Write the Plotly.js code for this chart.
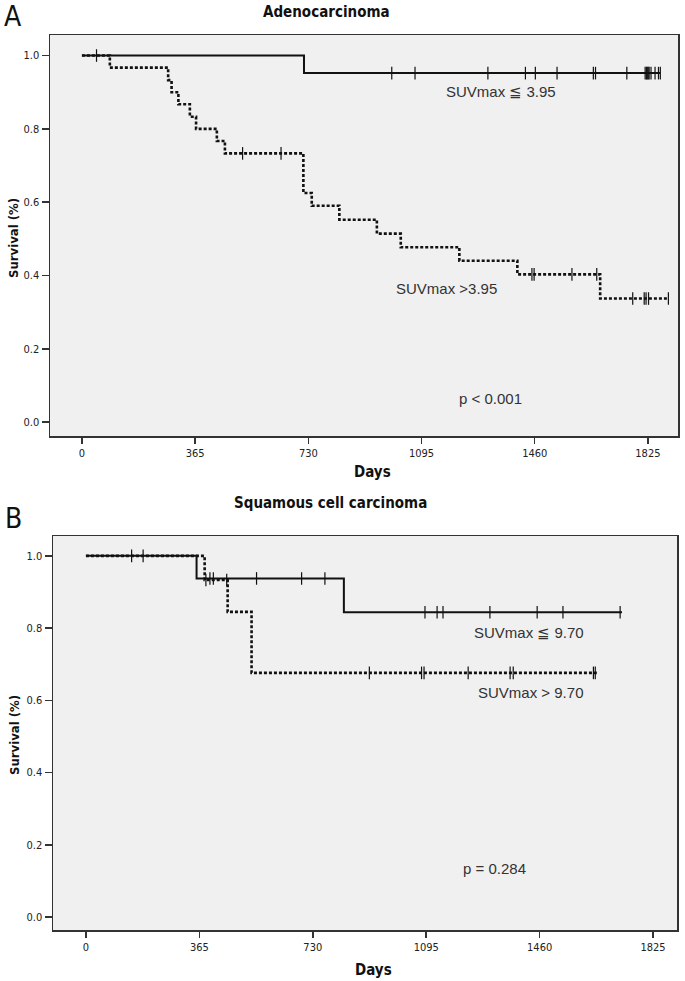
<!DOCTYPE html>
<html>
<head>
<meta charset="utf-8">
<script src="https://cdn.plot.ly/plotly-3.0.1.min.js"></script>
<style>html,body{margin:0;padding:0;background:#fff;}#chart{width:685px;height:981px;}</style>
</head>
<body>
<div id="chart"></div>
<script>
// ---------- DATA ----------
// Panel A: Adenocarcinoma
const daysA_low   = [0, 716, 1865];
const survA_low   = [1.0, 0.952, 0.952];
const censA_low   = [47, 999, 1074, 1309, 1430, 1462, 1532, 1649, 1656, 1757, 1816, 1820, 1823, 1826, 1829, 1835, 1848, 1859, 1865];

const daysA_high  = [0, 90, 278, 289, 311, 348, 368, 435, 461, 714, 741, 830, 951, 1028, 1217, 1404, 1671, 1891];
const survA_high  = [1.0, 0.967, 0.933, 0.9, 0.867, 0.833, 0.8, 0.767, 0.733, 0.625, 0.59, 0.552, 0.514, 0.477, 0.44, 0.403, 0.337, 0.337];
const censA_high  = [518, 642, 1451, 1458, 1580, 1660, 1776, 1813, 1819, 1827, 1891];

// Panel B: Squamous cell carcinoma
const daysB_low   = [0, 356, 830, 1725];
const survB_low   = [1.0, 0.9375, 0.844, 0.844];
const censB_low   = [147, 184, 399, 410, 549, 694, 769, 1091, 1130, 1149, 1300, 1452, 1535, 1719];

const daysB_high  = [0, 382, 456, 533, 1644];
const survB_high  = [1.0, 0.933, 0.845, 0.676, 0.676];
const censB_high  = [386, 453, 912, 1080, 1088, 1230, 1365, 1375, 1633, 1639];

const xTicks = [0, 365, 730, 1095, 1460, 1825];
const yTicks = [0.0, 0.2, 0.4, 0.6, 0.8, 1.0];
const yTickText = ['0.0', '0.2', '0.4', '0.6', '0.8', '1.0'];

const labelsA = ['SUVmax ≦ 3.95', 'SUVmax >3.95', 'p < 0.001'];
const labelsB = ['SUVmax ≦ 9.70', 'SUVmax > 9.70', 'p = 0.284'];
const titles  = ['Adenocarcinoma', 'Squamous cell carcinoma'];
const panelLetters = ['A', 'B'];
const xTitle = 'Days';
const yTitle = 'Survival (%)';

// ---------- HELPERS ----------
function stepAt(days, surv, t) {
  let v = surv[0];
  for (let i = 0; i < days.length; i++) { if (days[i] <= t) v = surv[i]; }
  return v;
}
const W = 685, H = 981;
const px = x => x / W;
const py = y => 1 - y / H;

const LABEL_FONT = "'Liberation Sans', Arial, sans-serif";
const TICK_FONT = "'Liberation Sans Narrow', 'DejaVu Sans Condensed', 'Liberation Sans', sans-serif";

function curve(days, surv, dashed, xa, ya) {
  return {
    x: days, y: surv, xaxis: xa, yaxis: ya, type: 'scatter', mode: 'lines',
    line: {shape: 'hv', color: '#111', width: dashed ? 2.6 : 2, dash: dashed ? '3px,2px' : 'solid'},
    hoverinfo: 'skip', showlegend: false
  };
}
function censors(days, surv, cens, xa, ya) {
  return {
    x: cens, y: cens.map(t => stepAt(days, surv, t)), xaxis: xa, yaxis: ya,
    type: 'scatter', mode: 'markers',
    marker: {symbol: 'line-ns', size: 9, line: {color: '#111', width: 1.2}},
    hoverinfo: 'skip', showlegend: false
  };
}

const data = [
  curve(daysA_low, survA_low, false, 'x', 'y'),
  curve(daysA_high, survA_high, true, 'x', 'y'),
  censors(daysA_low, survA_low, censA_low, 'x', 'y'),
  censors(daysA_high, survA_high, censA_high, 'x', 'y'),
  curve(daysB_low, survB_low, false, 'x2', 'y2'),
  curve(daysB_high, survB_high, true, 'x2', 'y2'),
  censors(daysB_low, survB_low, censB_low, 'x2', 'y2'),
  censors(daysB_high, survB_high, censB_high, 'x2', 'y2')
];

function xaxisDef(domain, range, anchor) {
  return {
    domain: domain, range: range, anchor: anchor,
    tickmode: 'array', tickvals: xTicks, ticktext: xTicks.map(String),
    ticks: 'outside', ticklen: 6, tickwidth: 1.5, tickcolor: '#333',
    showline: true, mirror: true, linecolor: '#333', linewidth: 1.5,
    showgrid: false, zeroline: false,
    tickfont: {family: TICK_FONT, size: 11, color: '#222'}
  };
}
function yaxisDef(domain, range, anchor) {
  return {
    domain: domain, range: range, anchor: anchor,
    tickmode: 'array', tickvals: yTicks, ticktext: yTickText,
    ticks: 'outside', ticklen: 7, tickwidth: 1.5, tickcolor: '#333',
    showline: true, mirror: true, linecolor: '#333', linewidth: 1.5,
    showgrid: false, zeroline: false,
    tickfont: {family: TICK_FONT, size: 11, color: '#222'}
  };
}

function ann(text, x, y, opts) {
  return Object.assign({text: text, x: px(x), y: py(y), xref: 'paper', yref: 'paper',
    showarrow: false, xanchor: 'center', yanchor: 'middle',
    font: {family: LABEL_FONT, size: 15, color: '#333'}}, opts || {});
}
const boldFont = s => ({family: TICK_FONT, size: s, color: '#111', weight: 'bold'});

const annotations = [
  ann(panelLetters[0], 13, 16, {font: {family: TICK_FONT, size: 28, color: '#111'}}),
  ann(titles[0], 326, 12, {font: boldFont(15)}),
  ann(labelsA[0], 501, 92),
  ann(labelsA[1], 447, 288),
  ann(labelsA[2], 491, 398),
  ann(xTitle, 372, 472, {font: boldFont(15)}),
  ann(yTitle, 14, 238, {textangle: -90, font: boldFont(13)}),

  ann(panelLetters[1], 13, 518, {font: {family: TICK_FONT, size: 28, color: '#111'}}),
  ann(titles[1], 330, 503, {font: boldFont(15)}),
  ann(labelsB[0], 529, 632),
  ann(labelsB[1], 530, 692),
  ann(labelsB[2], 494, 868),
  ann(xTitle, 373, 970, {font: boldFont(15)}),
  ann(yTitle, 14, 735, {textangle: -90, font: boldFont(13)})
];

const layout = {
  width: W, height: H,
  margin: {l: 0, r: 0, t: 0, b: 0},
  paper_bgcolor: '#ffffff',
  plot_bgcolor: '#f0f0f0',
  showlegend: false,
  xaxis: xaxisDef([px(50), px(678)], [-103, 1922], 'y'),
  yaxis: yaxisDef([py(436), py(35)], [-0.038, 1.056], 'x'),
  xaxis2: xaxisDef([px(53), px(677)], [-106, 1902], 'y2'),
  yaxis2: yaxisDef([py(930), py(536)], [-0.036, 1.055], 'x2'),
  annotations: annotations
};

Plotly.newPlot('chart', data, layout, {staticPlot: true, displayModeBar: false});
</script>
</body>
</html>
